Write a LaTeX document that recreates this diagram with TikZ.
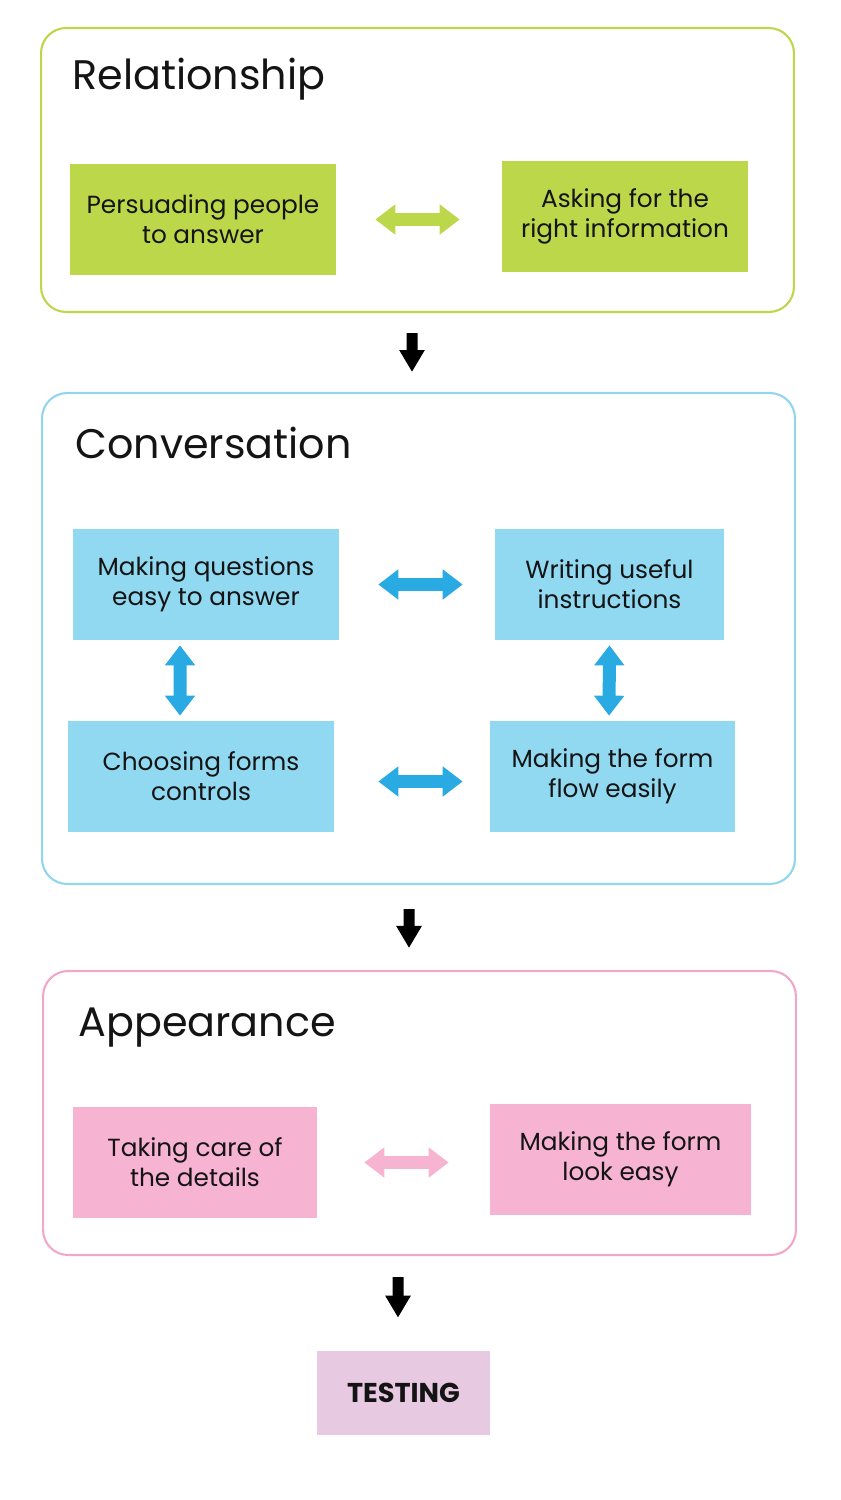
\documentclass[tikz,border=0pt]{standalone}
\usepackage{fontspec}
\setmainfont{Poppins}
\usetikzlibrary{positioning,arrows.meta}
\definecolor{limegreen}{RGB}{189,215,75}
\definecolor{skyfill}{RGB}{145,216,241}
\definecolor{skyline}{RGB}{146,213,238}
\definecolor{skyarrow}{RGB}{41,170,226}
\definecolor{rosefill}{RGB}{247,179,210}
\definecolor{roseline}{RGB}{242,167,201}
\definecolor{rosearrow}{RGB}{246,180,208}
\definecolor{lilacfill}{RGB}{232,201,226}
\definecolor{inkblack}{RGB}{20,20,20}

\tikzset{
  frame/.style={draw=#1,line width=1.2pt,rounded corners=0.5cm,
    minimum width=15.06cm,minimum height=5.68cm,inner sep=0pt},
  title/.style={anchor=base west,inner sep=0pt,text=inkblack,
    font=\fontsize{23.5}{28}\selectfont},
  item/.style={fill=#1,inner sep=0pt,minimum height=2.22cm,align=center,
    text=inkblack,font=\fontsize{14.1}{17}\selectfont},
  bighead/.tip={Triangle[width=0.58cm,length=0.4cm]},
  downhead/.tip={Triangle[width=0.48cm,length=0.44cm]},
  twoway/.style={draw=#1,line width=0.26cm,bighead-bighead},
  nextstep/.style={draw=black,line width=0.22cm,-downhead}
}

\begin{document}
\begin{tikzpicture}[x=0.02cm,y=-0.02cm]
  \useasboundingbox (0,0) rectangle (840,1500);

  % relationship
  \node[frame=limegreen] (relbox) at (417.5,170) {};
  \node[title] (reltitle) at (72,90) {Relationship};
  \node[item=limegreen,minimum width=5.32cm] (persuade) at (203,219.5)
    {Persuading people\\to answer};
  \node[item=limegreen,minimum width=4.92cm] (askinfo) at (625,216.5)
    {Asking for the\\right information};
  \draw[twoway=limegreen,shorten <=0.78cm,shorten >=0.84cm]
    (persuade.east) -- (persuade.east -| askinfo.west);

  % conversation
  \node[frame=skyline,minimum height=9.82cm] (convbox) at (418.5,638.5) {};
  \node[title] (convtitle) at (75,458) {Conversation};
  \node[item=skyfill,minimum width=5.32cm] (easyq) at (206,584.5)
    {Making questions\\easy to answer};
  \node[item=skyfill,minimum width=4.58cm] (instr) at (609.5,584.5)
    {Writing useful\\instructions};
  \node[item=skyfill,minimum width=5.32cm] (ctrls) at (201,776.5)
    {Choosing forms\\controls};
  \node[item=skyfill,minimum width=4.90cm] (flow) at (612.5,776.5)
    {Making the form\\flow easily};
  \draw[twoway=skyarrow,shorten <=0.78cm,shorten >=0.64cm]
    (easyq.east) -- (instr.west);
  \draw[twoway=skyarrow,shorten <=0.88cm,shorten >=0.54cm]
    ([yshift=-0.1cm]ctrls.east) -- ([yshift=-0.1cm]flow.west);
  \draw[twoway=skyarrow,shorten <=0.1cm,shorten >=0.1cm]
    ([xshift=-0.52cm]easyq.south) -- ([xshift=-0.42cm]ctrls.north);
  \draw[twoway=skyarrow,shorten <=0.1cm,shorten >=0.1cm]
    (instr.south) -- ([xshift=-0.07cm]flow.north);

  % appearance
  \node[frame=roseline] (appbox) at (419.5,1113) {};
  \node[title] (apptitle) at (78,1036) {Appearance};
  \node[item=rosefill,minimum width=4.88cm] (details) at (195,1162.5)
    {Taking care of\\the details};
  \node[item=rosefill,minimum width=5.22cm] (lookeasy) at (620.5,1159.5)
    {Making the form\\look easy};
  \draw[twoway=rosearrow,shorten <=0.94cm,shorten >=0.82cm]
    (details.east) -- (details.east -| lookeasy.west);

  % testing
  \node[fill=lilacfill,inner sep=0pt,minimum width=3.46cm,minimum height=1.68cm,
    text=inkblack,font=\fontsize{15.5}{18}\selectfont\bfseries] (testing)
    at (403.5,1393) {TESTING};

  % steps down
  \draw[nextstep,shorten <=0.4cm,shorten >=0.4cm]
    ([xshift=-0.11cm]relbox.south) -- ([xshift=-0.13cm]convbox.north);
  \draw[nextstep,shorten <=0.48cm,shorten >=0.44cm]
    ([xshift=-0.19cm]convbox.south) -- ([xshift=-0.21cm]appbox.north);
  \draw[nextstep,shorten <=0.42cm,shorten >=0.66cm]
    ([xshift=-0.43cm]appbox.south) -- ([xshift=-0.11cm]testing.north);
\end{tikzpicture}
\end{document}
